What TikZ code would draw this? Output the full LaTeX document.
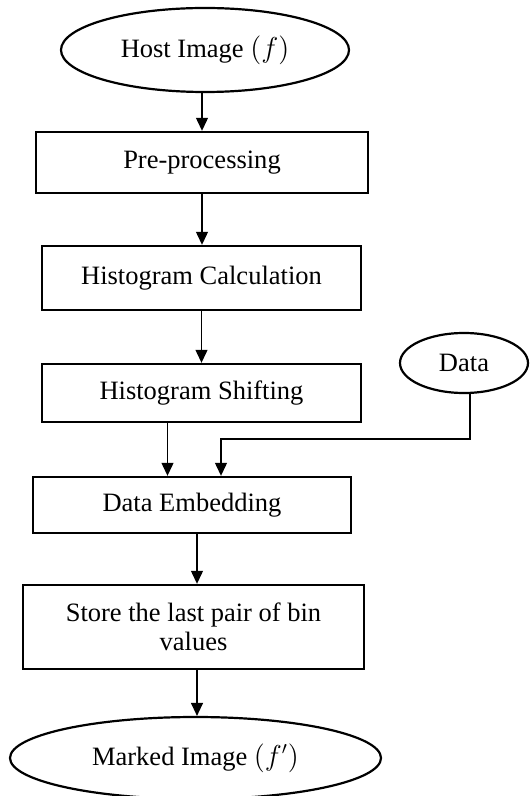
\documentclass[tikz,border=0pt]{standalone}
\usepackage{fontspec}
\setmainfont{Liberation Serif}
\usetikzlibrary{
  shapes.geometric,
  arrows.meta,
  positioning
}

\begin{document}
\begin{tikzpicture}[
  x=0.5pt, y=-0.5pt,
  font=\fontsize{13.25}{14.5}\selectfont,
  stage/.style={
    draw, line width=1.2pt,
    align=center, inner sep=0pt
  },
  term/.style={
    draw, ellipse, line width=1.1pt,
    inner sep=0pt
  },
  arrow/.style={
    -{Triangle[width=6pt,length=6.5pt]},
    line width=0.6pt}
]
\useasboundingbox (0,0) rectangle (529,796);

\node[term, minimum width=144pt, minimum height=42pt]
  (host) at (205,50) {Host Image $(f)$};

\node[stage, minimum width=166pt, minimum height=30.5pt]
  (pre) at (202,162.5) {Pre-processing};
\node[stage, minimum width=159.5pt, minimum height=32pt]
  (calc) at (201.5,278) {Histogram Calculation};
\node[stage, minimum width=159.5pt, minimum height=29pt]
  (shift) at (201.5,393) {Histogram Shifting};
\node[stage, minimum width=159pt, minimum height=28pt]
  (embed) at (192,505) {Data Embedding};
\node[stage, minimum width=170.5pt, minimum height=42pt]
  (store) at (193.5,627)
  {Store the last pair of bin\\values};

\node[term, minimum width=64pt, minimum height=30pt]
  (data) at (464,363) {Data};
\node[term, minimum width=185.5pt, minimum height=41pt]
  (marked) at (195.5,758) {Marked Image $(f')$};

% main chain
\draw[arrow] (host.south -| pre) -- (pre.north);
\draw[arrow] (pre.south) -- (pre.south |- calc.north);
\draw[arrow] (calc.south) -- (shift.north);
\draw[arrow] ([xshift=-17pt]shift.south)
  -- ([xshift=-17pt]shift.south |- embed.north);
\draw[arrow] ([xshift=2.5pt]embed.south)
  -- ([xshift=2.5pt]embed.south |- store.north);
\draw[arrow] ([xshift=1.75pt]store.south)
  -- ([xshift=1.75pt]store.south |- marked.north);

% data feed
\coordinate (join) at (221,439);
\draw[arrow] ([xshift=3pt]data.south) |- (join)
  -- (join |- embed.north);
\end{tikzpicture}
\end{document}
